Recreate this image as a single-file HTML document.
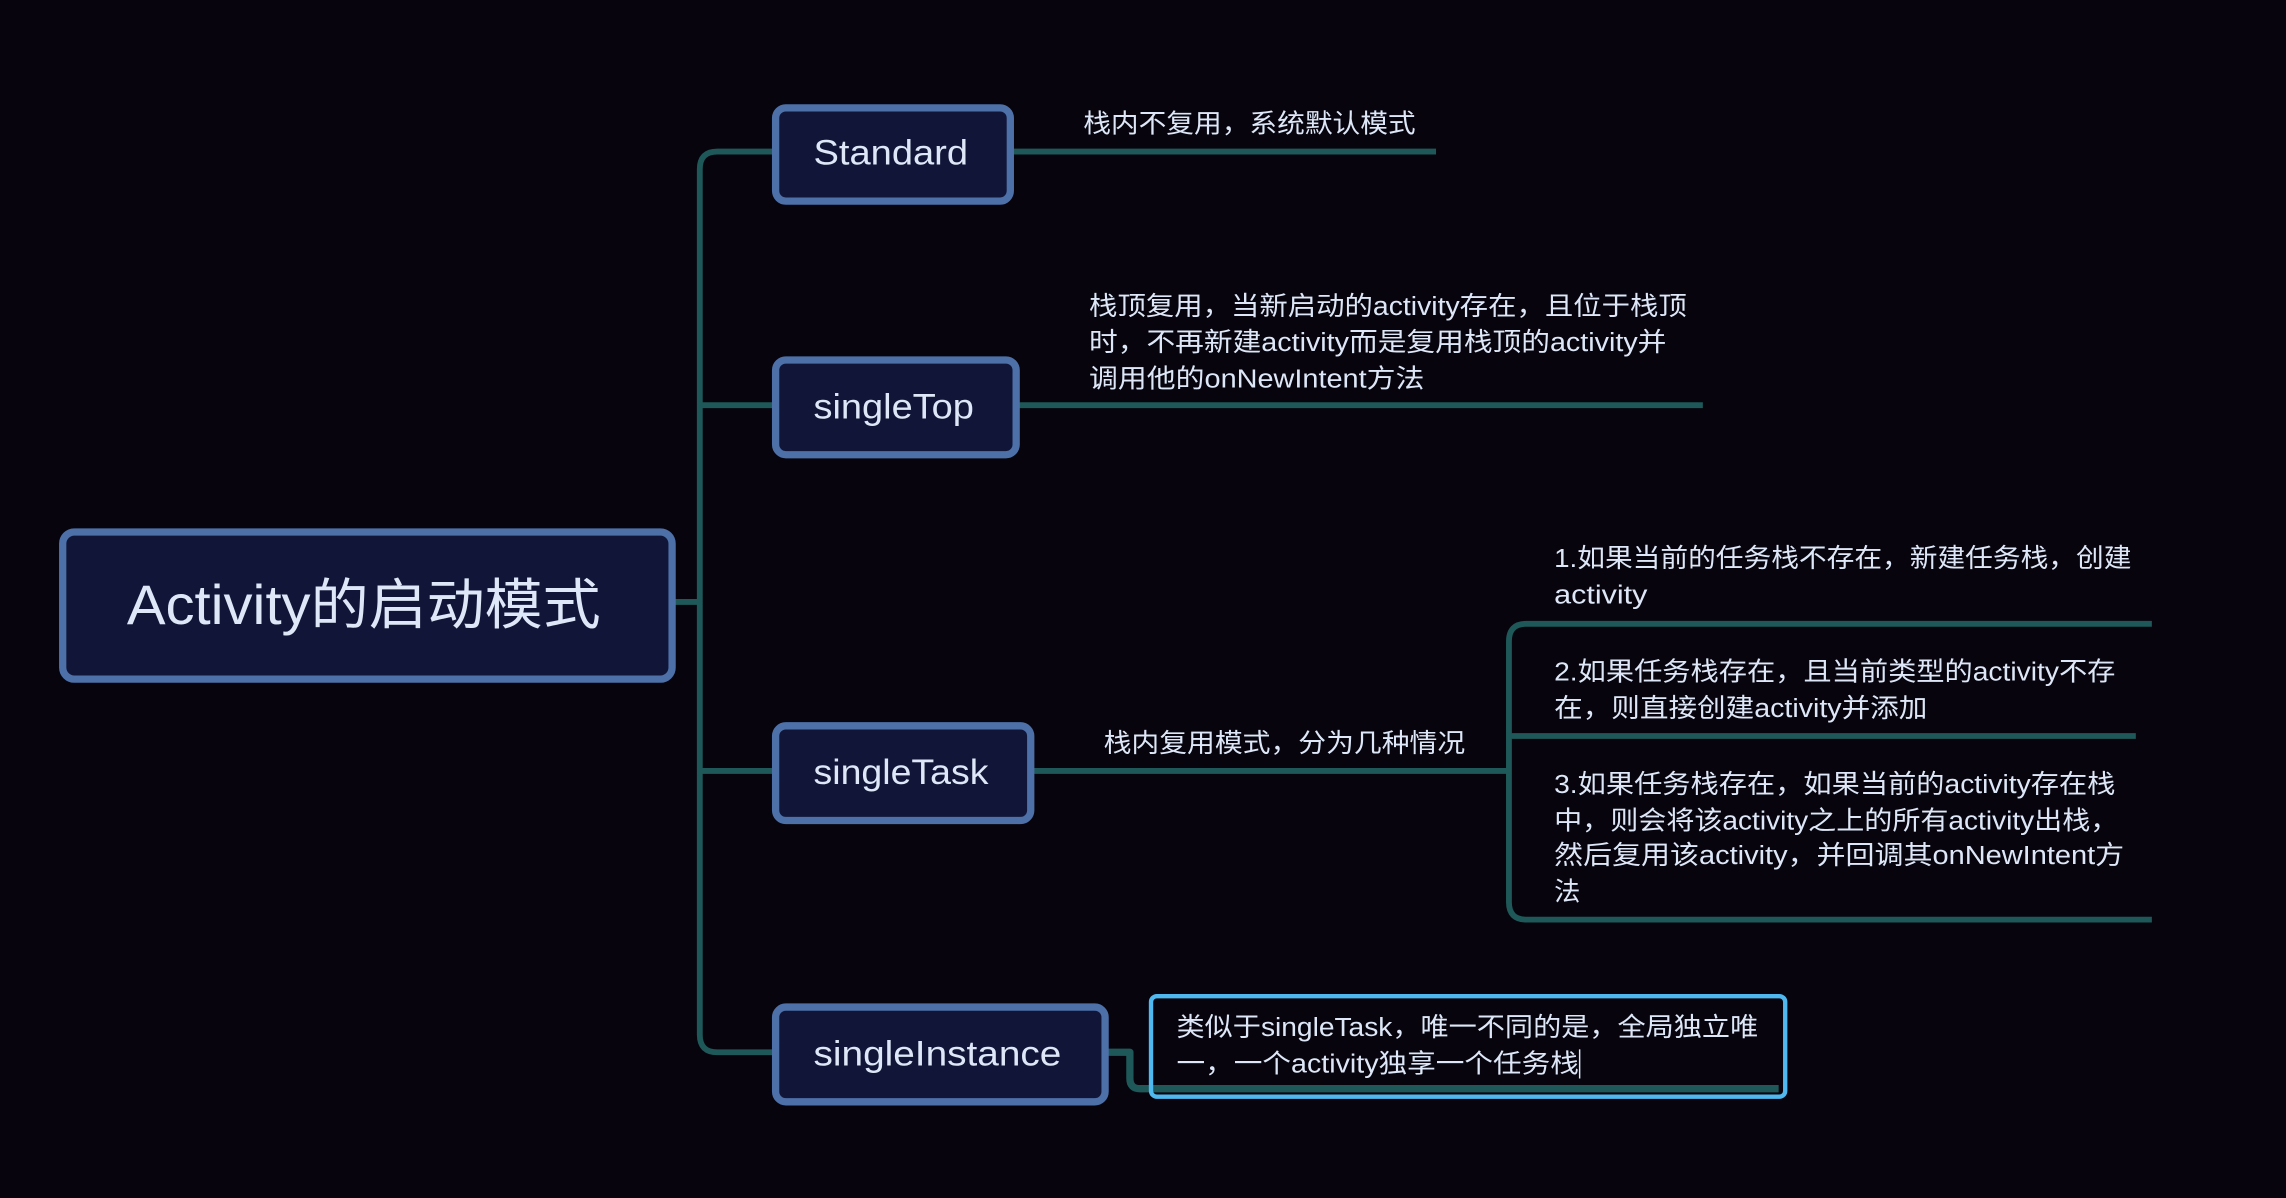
<!DOCTYPE html>
<html><head><meta charset="utf-8"><style>
html,body{margin:0;padding:0;background:#07040d;}
svg{display:block}
text{font-family:"Liberation Sans","Noto Sans CJK SC",sans-serif;fill:#dde7f7}
</style></head><body>
<svg width="2286" height="1198" viewBox="0 0 1568 822" preserveAspectRatio="none">
<rect width="1568" height="822" fill="#07040d"/>
<g fill="none" stroke="#1f5858" stroke-width="4" stroke-linejoin="round">
<path d="M462 413 H480"/>
<path d="M531 104 H492 Q480 104 480 116 V710 Q480 722 492 722 H531"/>
<path d="M480 278 H531 M480 529 H531"/>
<path d="M694 104 H985"/>
<path d="M698 278 H1168"/>
<path d="M708 529 H1035"/>
<path d="M1476 428 H1047 Q1035 428 1035 440 V619 Q1035 631 1047 631 H1476"/>
<path d="M1035 505 H1465"/>
<path d="M759 722 H775 V740 Q775 747 782 747 H1220" stroke-width="5"/>
</g>
<g fill="#111638" stroke="#4d70a8" stroke-width="5">
<rect x="43" y="365" width="418" height="101" rx="8"/>
<rect x="532" y="74" width="161" height="64" rx="7"/>
<rect x="532" y="247" width="165" height="65" rx="7"/>
<rect x="532" y="498" width="175" height="65" rx="7"/>
<rect x="532" y="691" width="226" height="65" rx="7"/>
</g>
<rect x="789.5" y="683.5" width="435" height="69" rx="4" fill="none" stroke="#4fb8ef" stroke-width="3"/>
<text x="87" y="428" font-size="38" textLength="325" lengthAdjust="spacingAndGlyphs">Activity的启动模式</text>
<g font-size="24" lengthAdjust="spacingAndGlyphs">
<text x="558" y="113" textLength="106" lengthAdjust="spacingAndGlyphs">Standard</text>
<text x="558" y="287" textLength="110" lengthAdjust="spacingAndGlyphs">singleTop</text>
<text x="558" y="538" textLength="120" lengthAdjust="spacingAndGlyphs">singleTask</text>
<text x="558" y="731" textLength="170" lengthAdjust="spacingAndGlyphs">singleInstance</text>
</g>
<g font-size="18">
<text x="743" y="91" textLength="228" lengthAdjust="spacingAndGlyphs">栈内不复用，系统默认模式</text>
<text x="747" y="216" textLength="410" lengthAdjust="spacingAndGlyphs">栈顶复用，当新启动的activity存在，且位于栈顶</text>
<text x="747" y="241" textLength="396" lengthAdjust="spacingAndGlyphs">时，不再新建activity而是复用栈顶的activity并</text>
<text x="747" y="266" textLength="230" lengthAdjust="spacingAndGlyphs">调用他的onNewIntent方法</text>
<text x="757" y="516" textLength="248" lengthAdjust="spacingAndGlyphs">栈内复用模式，分为几种情况</text>
<text x="1066" y="389" textLength="396" lengthAdjust="spacingAndGlyphs">1.如果当前的任务栈不存在，新建任务栈，创建</text>
<text x="1066" y="414" textLength="64" lengthAdjust="spacingAndGlyphs">activity</text>
<text x="1066" y="467" textLength="385" lengthAdjust="spacingAndGlyphs">2.如果任务栈存在，且当前类型的activity不存</text>
<text x="1066" y="492" textLength="256" lengthAdjust="spacingAndGlyphs">在，则直接创建activity并添加</text>
<text x="1066" y="544" textLength="385" lengthAdjust="spacingAndGlyphs">3.如果任务栈存在，如果当前的activity存在栈</text>
<text x="1066" y="569" textLength="387" lengthAdjust="spacingAndGlyphs">中，则会将该activity之上的所有activity出栈，</text>
<text x="1066" y="593" textLength="391" lengthAdjust="spacingAndGlyphs">然后复用该activity，并回调其onNewIntent方</text>
<text x="1066" y="618">法</text>
<text x="807" y="711" textLength="399" lengthAdjust="spacingAndGlyphs">类似于singleTask，唯一不同的是，全局独立唯</text>
<text x="807" y="736" textLength="276" lengthAdjust="spacingAndGlyphs">一，一个activity独享一个任务栈</text>
</g>
<rect x="1083" y="720" width="1" height="20" fill="#dde7f7"/>
</svg>
</body></html>
